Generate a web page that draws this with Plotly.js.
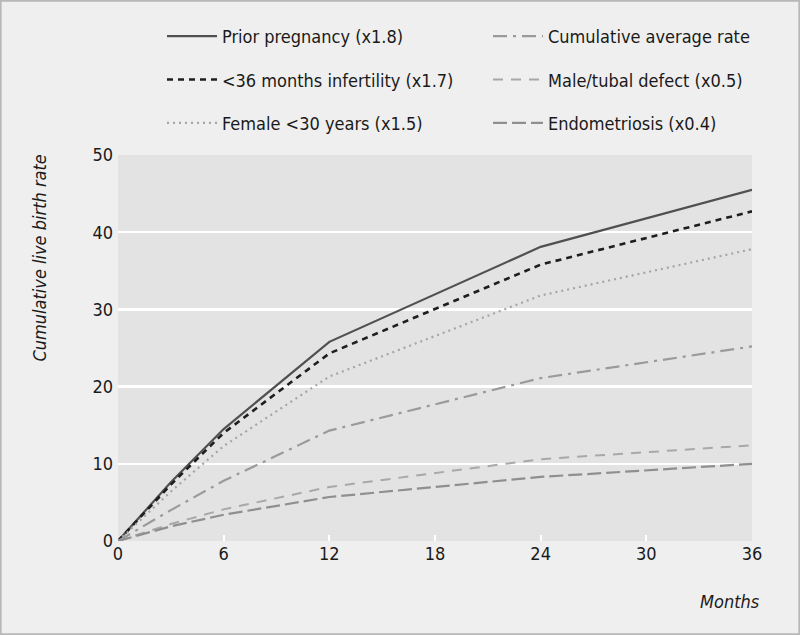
<!DOCTYPE html>
<html>
<head>
<meta charset="utf-8">
<script src="https://cdn.plot.ly/plotly-3.0.1.min.js"></script>
<style>html,body{margin:0;padding:0;background:#efefef;}#chart{width:800px;height:635px;}</style>
</head>
<body>
<div id="chart"></div>
<script>
const months = [0, 3, 6, 12, 24, 36];
const priorPregnancy = [0, 7.6, 14.5, 25.8, 38.1, 45.5];
const infertility36 = [0, 7.3, 14.0, 24.3, 35.8, 42.7];
const femaleUnder30 = [0, 6.4, 12.3, 21.3, 31.8, 37.8];
const cumulativeAverage = [0, 4.0, 7.8, 14.3, 21.1, 25.2];
const maleTubal = [0, 2.2, 4.1, 7.0, 10.6, 12.4];
const endometriosis = [0, 1.9, 3.4, 5.7, 8.3, 10.0];
const seriesNames = ["Prior pregnancy (x1.8)", "<36 months infertility (x1.7)", "Female <30 years (x1.5)",
  "Cumulative average rate", "Male/tubal defect (x0.5)", "Endometriosis (x0.4)"];
const xTicks = [0, 6, 12, 18, 24, 30, 36];
const yTicks = [0, 10, 20, 30, 40, 50];

const FONT = "'DejaVu Sans Condensed', 'Liberation Sans Narrow', 'Arial Narrow', 'Liberation Sans', Arial, sans-serif";

function tr(y, name, color, width, dash, legend, group, rank) {
  return {x: months, y: y, name: name, type: 'scatter', mode: 'lines',
    line: {color: color, width: width, dash: dash}, legend: legend, legendgroup: group, legendrank: rank};
}
const data = [
  tr(priorPregnancy, seriesNames[0], '#505050', 2.2, 'solid', 'legend', 'a', 1),
  tr(infertility36, seriesNames[1], '#1e1e1e', 2.6, '6px,5px', 'legend', 'b', 2),
  tr(femaleUnder30, seriesNames[2], '#a5a5a5', 2.2, '2px,4px', 'legend', 'c', 3),
  tr(cumulativeAverage, seriesNames[3], '#9a9a9a', 2.2, '14px,6px,3px,6px', 'legend2', 'd', 4),
  tr(maleTubal, seriesNames[4], '#a8a8a8', 2, '10px,8px', 'legend2', 'e', 5),
  tr(endometriosis, seriesNames[5], '#8f8f8f', 2.2, '14px,5px', 'legend2', 'f', 6)
];

const legendBase = {orientation: 'v', bgcolor: 'rgba(0,0,0,0)', font: {family: FONT, size: 18, color: '#1a1a1a'},
  tracegroupgap: 17, itemwidth: 50, yanchor: 'top', xanchor: 'left', traceorder: 'grouped'};

const layout = {
  width: 800, height: 635,
  paper_bgcolor: '#efefef', plot_bgcolor: '#e3e3e3',
  margin: {l: 118, r: 48, t: 155, b: 94},
  font: {family: FONT, size: 18, color: '#1a1a1a'},
  showlegend: true,
  legend: Object.assign({}, legendBase, {x: (162 - 118) / 634, y: 1.355, xref: 'paper', yref: 'paper'}),
  legend2: Object.assign({}, legendBase, {x: (488 - 118) / 634, y: 1.355, xref: 'paper', yref: 'paper'}),
  xaxis: {range: [0, 36], tickvals: xTicks, ticks: 'inside', ticklen: 6, tickwidth: 2, tickcolor: '#ffffff',
    showgrid: false, zeroline: false, showline: false, tickfont: {family: FONT, size: 18, color: '#1a1a1a'}, fixedrange: true},
  yaxis: {range: [0, 50], tickvals: yTicks, showgrid: true, gridcolor: '#ffffff', gridwidth: 2.5,
    zeroline: false, showline: false, ticks: '', ticklabelstandoff: 4, tickfont: {family: FONT, size: 18, color: '#1a1a1a'}, fixedrange: true},
  annotations: [
    {text: 'Cumulative live birth rate', xref: 'paper', yref: 'paper', x: (40 - 118) / 634, y: 1.005, xanchor: 'center', yanchor: 'top',
      textangle: -90, showarrow: false, font: {family: FONT, size: 18, style: 'italic', color: '#1a1a1a'}},
    {text: 'Months', xref: 'paper', yref: 'paper', x: 1.016, y: -0.125, xanchor: 'right', yanchor: 'top',
      showarrow: false, font: {family: FONT, size: 18, style: 'italic', color: '#1a1a1a'}}
  ],
  shapes: [
    {type: 'rect', xref: 'paper', yref: 'paper', x0: -118/634 + 0.001, x1: 1 + 48/634 - 0.001, y0: -94/386 + 0.002, y1: 1 + 155/386 - 0.002,
      line: {color: '#b8b8b8', width: 2}, fillcolor: 'rgba(0,0,0,0)', layer: 'below'}
  ]
};
Plotly.newPlot('chart', data, layout, {displayModeBar: false, staticPlot: true});
</script>
</body>
</html>
